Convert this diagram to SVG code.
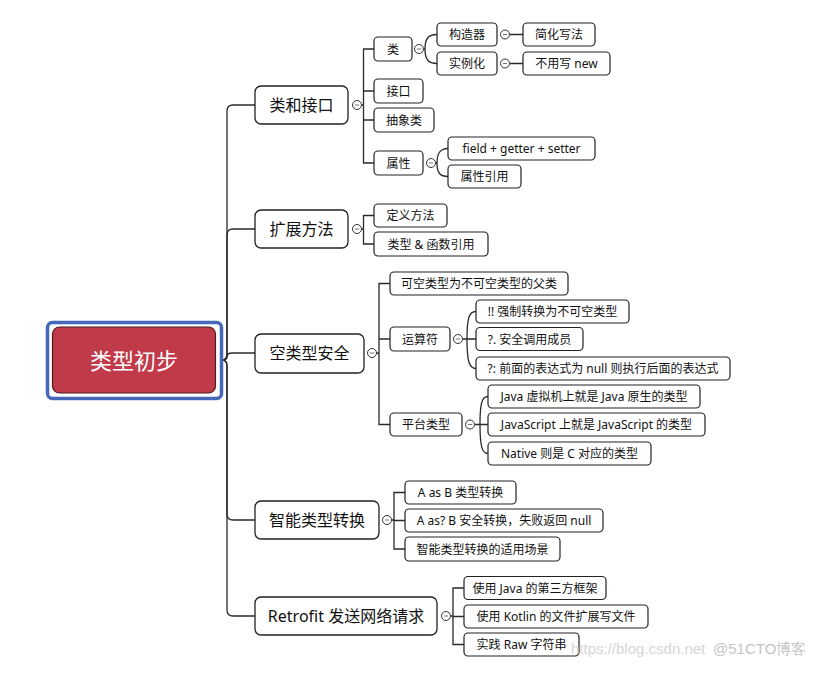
<svg xmlns="http://www.w3.org/2000/svg" width="822" height="675" viewBox="0 0 822 675">
<style>
text{font-family:"Noto Sans","Noto Sans CJK SC",sans-serif;fill:#111;text-anchor:middle;dominant-baseline:central}
.l1 rect{fill:#fff;stroke:#222;stroke-width:1.3}
.l2 rect{fill:#fff;stroke:#222;stroke-width:1.2}
.t1{font-size:16px}
.t2{font-size:12px}
#connectors path{fill:none;stroke:#2a2a2a;stroke-width:1.3}
.wm{font-family:"Liberation Sans",Arial,sans-serif;font-size:15px;text-anchor:start;dominant-baseline:alphabetic}
</style>
<defs>
<g id="c"><circle r="4.5" fill="#fff" stroke="#333" stroke-width="1"/><path d="M-2.2,0H2.2" stroke="#777" stroke-width="1"/></g>
</defs>
<rect width="822" height="675" fill="#fff"/>
<g id="connectors">
<path d="M222,360 Q227,360 227,354 V111 Q227,105 233,105 H255"/>
<path d="M222,360 Q227,360 227,354 V235 Q227,229 233,229 H255"/>
<path d="M222,360 Q227,360 227,357 Q227,353 232,353 H255"/>
<path d="M222,360 Q227,360 227,366 V514 Q227,520 233,520 H255"/>
<path d="M222,360 Q227,360 227,366 V610 Q227,616 233,616 H255"/>
<path d="M361.5,105 H363.5 M374,49 H363.5 V163 H374 M363.5,91 H374 M363.5,120 H374"/>
<path d="M423.5,49 H425 C425,39 428,34.5 437,34.5 M425,49 C425,59 428,63.5 437,63.5"/>
<path d="M509.5,34.5 H523 M509.5,63.5 H523"/>
<path d="M435.5,163 H437 C437,153 440,148.5 448,148.5 M437,163 C437,173 440,176.5 448,176.5"/>
<path d="M361.5,229 H363.5 M374,215.5 H363.5 V244 H374"/>
<path d="M376.5,353 H379 M390,283.5 H379 V424.5 H390 M379,339 H390"/>
<path d="M462.5,339 H476 M467,339 C467,318 469,311.5 476,311.5 M467,339 C467,361 469,368.5 476,368.5"/>
<path d="M474.5,424.5 H488 M480,424.5 C480,403 482,396.5 488,396.5 M480,424.5 C480,446 482,453.5 488,453.5"/>
<path d="M391.5,520 H394 M405,492.5 H394 V549 H405 M394,520.5 H405"/>
<path d="M450.5,616 H453 M464,588 H453 V644.5 H464 M453,616.5 H464"/>
</g>
<g id="root">
<rect x="47.5" y="322.5" width="174" height="76" rx="5" fill="#fff" stroke="#4568bb" stroke-width="3.5"/>
<rect x="52.5" y="327" width="163" height="66" rx="7" fill="#c13a4a" stroke="#4a1c22" stroke-width="1.2"/>
<text x="134" y="360" style="font-size:22px;fill:#fff">类型初步</text>
</g>
<g id="n-leijk" class="l1"><rect x="255" y="86" width="93" height="38" rx="6"/><text class="t1" x="301.5" y="105">类和接口</text></g>
<g id="n-kzff" class="l1"><rect x="255" y="210" width="93" height="38" rx="6"/><text class="t1" x="301.5" y="229">扩展方法</text></g>
<g id="n-klxaq" class="l1"><rect x="255" y="334" width="109" height="39" rx="6"/><text class="t1" x="309.5" y="353">空类型安全</text></g>
<g id="n-znlxzh" class="l1"><rect x="255" y="501" width="124" height="38" rx="6"/><text class="t1" x="317" y="520">智能类型转换</text></g>
<g id="n-retrofit" class="l1"><rect x="255" y="597" width="182" height="38" rx="6"/><text class="t1" x="346" y="616">Retrofit 发送网络请求</text></g>
<g id="collapse-markers">
<use href="#c" x="357" y="105"/><use href="#c" x="357" y="229"/><use href="#c" x="372" y="353"/><use href="#c" x="387" y="520"/><use href="#c" x="446" y="616"/>
<use href="#c" x="419" y="49"/><use href="#c" x="505" y="34.5"/><use href="#c" x="505" y="63.5"/><use href="#c" x="431" y="163"/>
<use href="#c" x="458" y="339"/><use href="#c" x="470" y="424.5"/>
</g>
<g id="n-lei" class="l2"><rect x="374" y="37" width="38" height="24" rx="4"/><text class="t2" x="393" y="49">类</text></g>
<g id="n-jk" class="l2"><rect x="374" y="79" width="49" height="24" rx="4"/><text class="t2" x="398.5" y="91">接口</text></g>
<g id="n-cxl" class="l2"><rect x="374" y="108" width="60" height="24" rx="4"/><text class="t2" x="404" y="120">抽象类</text></g>
<g id="n-sx" class="l2"><rect x="374" y="151" width="49" height="24" rx="4"/><text class="t2" x="398.5" y="163">属性</text></g>
<g id="n-gzq" class="l2"><rect x="437" y="23" width="60" height="23" rx="4"/><text class="t2" x="467" y="34.5">构造器</text></g>
<g id="n-slh" class="l2"><rect x="437" y="52" width="60" height="23" rx="4"/><text class="t2" x="467" y="63.5">实例化</text></g>
<g id="n-jhxf" class="l2"><rect x="523" y="23" width="72" height="23" rx="4"/><text class="t2" x="559" y="34.5">简化写法</text></g>
<g id="n-bysnew" class="l2"><rect x="523" y="52" width="87" height="23" rx="4"/><text class="t2" x="566.5" y="63.5">不用写 new</text></g>
<g id="n-field" class="l2"><rect x="448" y="137" width="147" height="23" rx="4"/><text class="t2" x="521.5" y="148.5">field + getter + setter</text></g>
<g id="n-sxyy" class="l2"><rect x="448" y="165" width="73" height="23" rx="4"/><text class="t2" x="484.5" y="176.5">属性引用</text></g>
<g id="n-dyff" class="l2"><rect x="374" y="204" width="73" height="23" rx="4"/><text class="t2" x="410.5" y="215.5">定义方法</text></g>
<g id="n-lxhs" class="l2"><rect x="374" y="232" width="114" height="24" rx="4"/><text class="t2" x="431" y="244">类型 &amp; 函数引用</text></g>
<g id="n-kklx" class="l2"><rect x="390" y="272" width="178" height="23" rx="4"/><text class="t2" x="479" y="283.5">可空类型为不可空类型的父类</text></g>
<g id="n-ysf" class="l2"><rect x="390" y="327" width="60" height="24" rx="4"/><text class="t2" x="420" y="339">运算符</text></g>
<g id="n-ptlx" class="l2"><rect x="390" y="413" width="72" height="23" rx="4"/><text class="t2" x="426" y="424.5">平台类型</text></g>
<g id="n-qzzh" class="l2"><rect x="476" y="300" width="153" height="23" rx="4"/><text class="t2" x="552.5" y="311.5">!! 强制转换为不可空类型</text></g>
<g id="n-aqdy" class="l2"><rect x="476" y="327.5" width="107" height="23" rx="4"/><text class="t2" x="529.5" y="339">?. 安全调用成员</text></g>
<g id="n-elvis" class="l2"><rect x="476" y="357" width="254" height="23" rx="4"/><text class="t2" x="603" y="368.5">?: 前面的表达式为 null 则执行后面的表达式</text></g>
<g id="n-java" class="l2"><rect x="488" y="385" width="212" height="23" rx="4"/><text class="t2" x="594" y="396.5">Java 虚拟机上就是 Java 原生的类型</text></g>
<g id="n-js" class="l2"><rect x="488" y="413" width="217" height="23" rx="4"/><text class="t2" x="596.5" y="424.5">JavaScript 上就是 JavaScript 的类型</text></g>
<g id="n-native" class="l2"><rect x="488" y="442" width="163" height="23" rx="4"/><text class="t2" x="569.5" y="453.5">Native 则是 C 对应的类型</text></g>
<g id="n-asb" class="l2"><rect x="405" y="481" width="111" height="23" rx="4"/><text class="t2" x="460.5" y="492.5">A as B 类型转换</text></g>
<g id="n-assafe" class="l2"><rect x="405" y="509" width="198" height="23" rx="4"/><text class="t2" x="504" y="520.5">A as? B 安全转换，失败返回 null</text></g>
<g id="n-sycj" class="l2"><rect x="405" y="537" width="155" height="24" rx="4"/><text class="t2" x="482.5" y="549">智能类型转换的适用场景</text></g>
<g id="n-dsf" class="l2"><rect x="464" y="576.5" width="142" height="23" rx="4"/><text class="t2" x="535" y="588">使用 Java 的第三方框架</text></g>
<g id="n-kotlin" class="l2"><rect x="464" y="605" width="184" height="23" rx="4"/><text class="t2" x="556" y="616.5">使用 Kotlin 的文件扩展写文件</text></g>
<g id="n-raw" class="l2"><rect x="464" y="633" width="115" height="23" rx="4"/><text class="t2" x="521.5" y="644.5">实践 Raw 字符串</text></g>
<text class="wm" x="571" y="654" style="fill:#d6d6d6">https://blog.csdn.net</text>
<text class="wm" x="713" y="654" style="fill:#c4c4c4">@51CTO博客</text>
</svg>
